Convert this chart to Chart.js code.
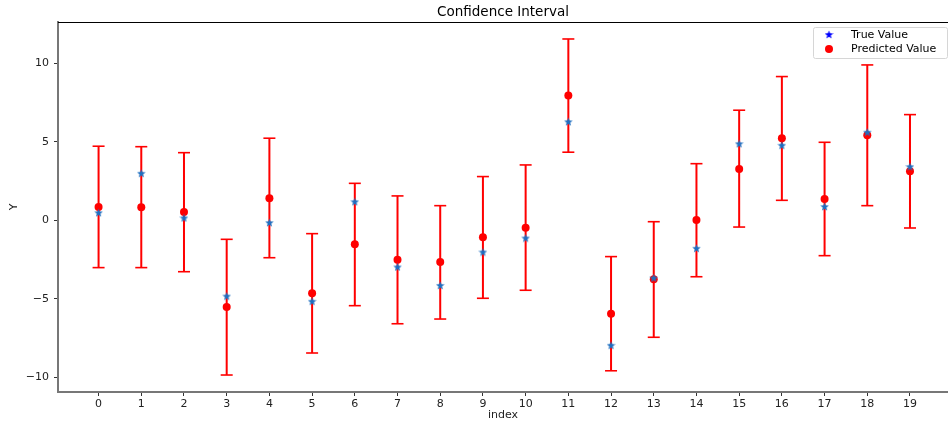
<!DOCTYPE html>
<html>
<head>
<meta charset="utf-8">
<script src="https://cdn.jsdelivr.net/npm/chart.js@4.4.1/dist/chart.umd.min.js"></script>
<style>
  html, body { margin: 0; padding: 0; background: #fff; }
  #wrap { width: 948px; height: 422px; }
</style>
</head>
<body>
<div id="wrap"><canvas id="chart"></canvas></div>
<script>
// values
const indices = [0, 1, 2, 3, 4, 5, 6, 7, 8, 9, 10, 11, 12, 13, 14, 15, 16, 17, 18, 19];
const trueValues = [0.48, 2.99, 0.15, -4.82, -0.15, -5.15, 1.18, -2.97, -4.14, -2.02,
                    -1.13, 6.27, -7.95, -3.67, -1.78, 4.87, 4.77, 0.87, 5.60, 3.41];
const predicted = [0.85, 0.83, 0.53, -5.52, 1.40, -4.64, -1.53, -2.51, -2.65, -1.08,
                   -0.47, 7.93, -5.94, -3.75, 0.02, 3.26, 5.22, 1.35, 5.41, 3.12];
const lowerBound = [-3.01, -3.01, -3.27, -9.84, -2.38, -8.44, -5.43, -6.58, -6.28, -4.96,
                    -4.45, 4.33, -9.57, -7.44, -3.59, -0.43, 1.27, -2.25, 0.93, -0.49];
const upperBound = [4.71, 4.68, 4.30, -1.21, 5.22, -0.85, 2.35, 1.55, 0.93, 2.78,
                    3.52, 11.53, -2.31, -0.09, 3.60, 7.00, 9.14, 4.96, 9.88, 6.72];
const yTicks = [-10, -5, 0, 5, 10];

const FONT = 'DejaVu Sans';

function starImage(color, size) {
    const c = document.createElement('canvas');
    c.width = size;
    c.height = size;
    const g = c.getContext('2d');
    const cx = size / 2, cy = size / 2 + 0.4;
    const outer = size / 2, inner = outer * 0.42;
    g.beginPath();
    for (let k = 0; k < 10; k++) {
        const r = k % 2 === 0 ? outer : inner;
        const a = -Math.PI / 2 + k * Math.PI / 5;
        const px = cx + r * Math.cos(a), py = cy + r * Math.sin(a);
        if (k === 0) g.moveTo(px, py); else g.lineTo(px, py);
    }
    g.closePath();
    g.fillStyle = color;
    g.fill();
    return c;
}

const plotStar = starImage('#1f6fc0', 9);
const legendStar = starImage('#0000ff', 9);

// error bar segments, broken by nulls
const barSegments = [];
indices.forEach((x, i) => {
    barSegments.push({ x: x, y: lowerBound[i] });
    barSegments.push({ x: x, y: upperBound[i] });
    barSegments.push({ x: x, y: null });
});
const caps = [];
indices.forEach((x, i) => {
    caps.push({ x: x, y: lowerBound[i] });
    caps.push({ x: x, y: upperBound[i] });
});

const frame = {
    id: 'frame',
    afterDraw(chart) {
        const { ctx, chartArea } = chart;
        ctx.save();
        ctx.strokeStyle = '#000';
        ctx.lineWidth = 1;
        ctx.beginPath();
        ctx.moveTo(chartArea.left, chartArea.top + 0.5);
        ctx.lineTo(chartArea.right, chartArea.top + 0.5);
        ctx.stroke();

        // legend box, top right inside the axes
        const bx = 813, by = 27, bw = 134, bh = 31;
        ctx.fillStyle = 'rgba(255,255,255,0.8)';
        ctx.strokeStyle = '#d6d6d6';
        ctx.lineWidth = 1;
        ctx.beginPath();
        ctx.roundRect(bx + 0.5, by + 0.5, bw, bh, 2);
        ctx.fill();
        ctx.stroke();
        ctx.drawImage(legendStar, 829 - 4.5, 34.5 - 4.5);
        ctx.fillStyle = '#ff0000';
        ctx.beginPath();
        ctx.arc(829, 49, 4, 0, Math.PI * 2);
        ctx.fill();
        ctx.fillStyle = '#000';
        ctx.font = '11px "' + FONT + '"';
        ctx.textBaseline = 'middle';
        ctx.fillText('True Value', 851, 35);
        ctx.fillText('Predicted Value', 851, 49);
        ctx.restore();
    }
};

new Chart(document.getElementById('chart'), {
    type: 'scatter',
    data: {
        datasets: [
            {
                label: 'True Value',
                data: indices.map((x, i) => ({ x: x, y: trueValues[i] })),
                pointStyle: plotStar,
                pointRadius: 4.5,
                order: 0
            },
            {
                label: 'Predicted Value',
                data: indices.map((x, i) => ({ x: x, y: predicted[i] })),
                pointStyle: 'circle',
                pointRadius: 4,
                backgroundColor: '#ff0000',
                borderWidth: 0,
                order: 1
            },
            {
                label: 'caps',
                data: caps,
                pointStyle: 'line',
                pointRadius: 6,
                borderColor: '#ff0000',
                borderWidth: 1.6,
                order: 2
            },
            {
                label: 'bars',
                type: 'line',
                data: barSegments,
                showLine: true,
                spanGaps: false,
                pointRadius: 0,
                borderColor: '#ff0000',
                borderWidth: 2,
                order: 3
            }
        ]
    },
    options: {
        responsive: true,
        maintainAspectRatio: false,
        animation: false,
        layout: { padding: 0, autoPadding: false },
        plugins: {
            legend: { display: false },
            tooltip: { enabled: false },
            title: {
                display: true,
                text: 'Confidence Interval',
                fullSize: false,
                color: '#000',
                font: { family: FONT, size: 13.5, weight: 'normal' },
                padding: { top: 4.6, bottom: 1.2 }
            }
        },
        scales: {
            x: {
                type: 'linear',
                min: -0.95,
                max: 19.89,
                afterBuildTicks: s => { s.ticks = indices.map(v => ({ value: v })); },
                afterFit: s => { s.height = 30; },
                grid: { drawOnChartArea: false, drawTicks: true, tickLength: 4, color: '#333' },
                border: { display: true, color: '#777', width: 2 },
                ticks: {
                    color: '#222',
                    padding: 2,
                    maxRotation: 0,
                    font: { family: FONT, size: 11 },
                    callback: v => String(v)
                },
                title: {
                    display: true,
                    text: 'index',
                    color: '#222',
                    font: { family: FONT, size: 11 },
                    padding: { top: 0, bottom: 0.4 }
                }
            },
            y: {
                min: -10.92,
                max: 12.61,
                afterBuildTicks: s => { s.ticks = yTicks.map(v => ({ value: v })); },
                afterFit: s => { s.width = 58; },
                grid: { drawOnChartArea: false, drawTicks: true, tickLength: 4, color: '#333' },
                border: { display: true, color: '#777', width: 2 },
                ticks: {
                    color: '#222',
                    padding: 5,
                    font: { family: FONT, size: 11 },
                    callback: v => String(v).replace('-', '\u2212')
                },
                title: {
                    display: true,
                    text: 'Y',
                    color: '#222',
                    font: { family: FONT, size: 11 },
                    padding: { top: 7.4, bottom: 0 }
                }
            }
        }
    },
    plugins: [frame]
});
</script>
</body>
</html>
